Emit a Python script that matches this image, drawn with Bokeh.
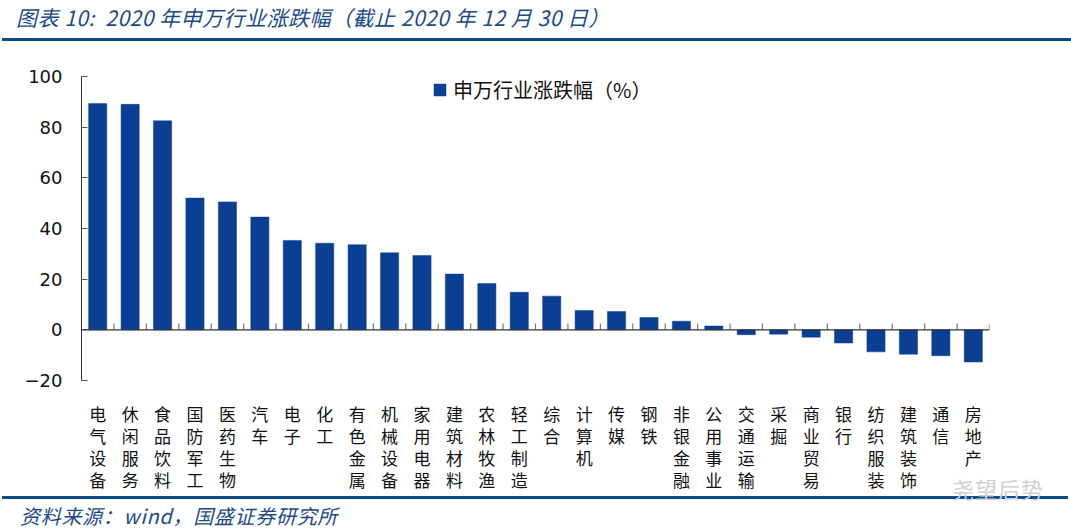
from bokeh.plotting import figure
from bokeh.models import Div, Span, FixedTicker, Legend, LegendItem, ColumnDataSource
from bokeh.layouts import column
from bokeh.embed import file_html
from bokeh.resources import INLINE

industries = ["电气设备", "休闲服务", "食品饮料", "国防军工", "医药生物", "汽车", "电子", "化工",
              "有色金属", "机械设备", "家用电器", "建筑材料", "农林牧渔", "轻工制造", "综合",
              "计算机", "传媒", "钢铁", "非银金融", "公用事业", "交通运输", "采掘", "商业贸易",
              "银行", "纺织服装", "建筑装饰", "通信", "房地产"]
changes = [89.3, 89.0, 82.5, 52.0, 50.5, 44.5, 35.3, 34.2, 33.6, 30.4, 29.3, 22.0, 18.3, 14.8, 13.3,
           7.6, 7.2, 4.9, 3.4, 1.5, -1.9, -1.7, -2.9, -5.2, -8.7, -9.6, -10.2, -12.7]
y_ticks = [-20, 0, 20, 40, 60, 80, 100]
series_name = "申万行业涨跌幅（%）"
title_text = "图表 10:&nbsp; 2020 年申万行业涨跌幅（截止 2020 年 12 月 30 日）"
source_text = "资料来源：wind，国盛证券研究所"
watermark = "尧望后势"

BLUE = "#0b3f94"
TXT_BLUE = "#1a4a8c"
RULE = "#0d4a8e"
CJK = "'Noto Sans CJK SC'"

n = len(industries)
xs = [i + 0.5 for i in range(n)]
src = ColumnDataSource(dict(x=xs, top=changes, name=industries))

p = figure(width=1071, height=453, x_range=(0, n), y_range=(-20, 100),
           output_backend="svg", toolbar_location=None,
           min_border_left=81, min_border_right=82, min_border_top=35, min_border_bottom=102)
p.outline_line_color = None
p.xgrid.visible = False
p.ygrid.visible = False
p.background_fill_color = "white"

bars = p.vbar(x="x", top="top", bottom=0, width=0.56, source=src,
              fill_color=BLUE, line_color=BLUE, line_width=0.5)

# zero line and boundary ticks
p.add_layout(Span(location=0, dimension="width", line_color="#333333", line_width=1.2))
bounds = list(range(1, n + 1))
p.segment(x0=bounds, y0=[0] * n, x1=bounds, y1=[2.5] * n, line_color="#777777", line_width=1.2)

# y axis
ya = p.yaxis[0]
ya.ticker = FixedTicker(ticks=y_ticks)
ya.major_tick_in = 6
ya.major_tick_out = 0
ya.minor_tick_line_color = None
ya.axis_line_color = "#333333"
ya.major_tick_line_color = "#555555"
ya.major_label_text_font = "DejaVu Sans"
ya.major_label_text_font_size = "18px"
ya.major_label_text_color = "#111111"
ya.major_label_standoff = 19

# x axis: labels only
xa = p.xaxis[0]
xa.ticker = FixedTicker(ticks=xs)
xa.major_label_overrides = {x: "\n".join(name) for x, name in zip(xs, industries)}
xa.axis_line_color = None
xa.major_tick_line_color = None
xa.minor_tick_line_color = None
xa.major_label_text_font = "Noto Sans CJK SC"
xa.major_label_text_font_size = "17px"
xa.major_label_text_line_height = 0.88
xa.major_label_text_color = "#111111"
xa.major_label_standoff = 14
xa.major_label_orientation = "horizontal"

legend = Legend(items=[LegendItem(label=series_name, renderers=[bars])],
                location=(351, 276), orientation="horizontal",
                border_line_color=None, background_fill_alpha=0,
                padding=0, margin=0, glyph_width=15, glyph_height=15, label_standoff=6,
                label_height=30,
                label_text_font="Noto Sans CJK SC", label_text_font_size="20px",
                label_text_color="#111111")
p.add_layout(legend, "center")

title = Div(width=1071, height=41, styles={"margin": "0"},
            text=f'<div style="font-family:{CJK};font-style:italic;font-size:21px;letter-spacing:0.5px;'
                 f'color:{TXT_BLUE};height:41px;line-height:22px;padding-top:6px;padding-left:14px;'
                 f'margin-left:2px;width:1069px;box-sizing:border-box;'
                 f'border-bottom:3px solid {RULE};white-space:nowrap;">{title_text}</div>')
source = Div(width=1071, height=37, styles={"margin": "0", "overflow": "visible"},
             text=f'<div style="position:relative;font-family:{CJK};font-style:italic;font-size:20px;'
                  f'letter-spacing:0.7px;color:{TXT_BLUE};margin-top:2px;margin-left:2px;width:1066px;'
                  f'border-top:3px solid {RULE};padding-left:18px;padding-top:6px;line-height:22px;'
                  f'white-space:nowrap;box-sizing:border-box;overflow:visible;">{source_text}'
                  f'<span style="position:absolute;left:950px;top:-22px;font-style:normal;font-size:22px;'
                  f'letter-spacing:1px;color:#d0d0d0;">{watermark}</span></div>')

layout = column(title, p, source, spacing=0)
open("out.html", "w").write(file_html(layout, INLINE))
